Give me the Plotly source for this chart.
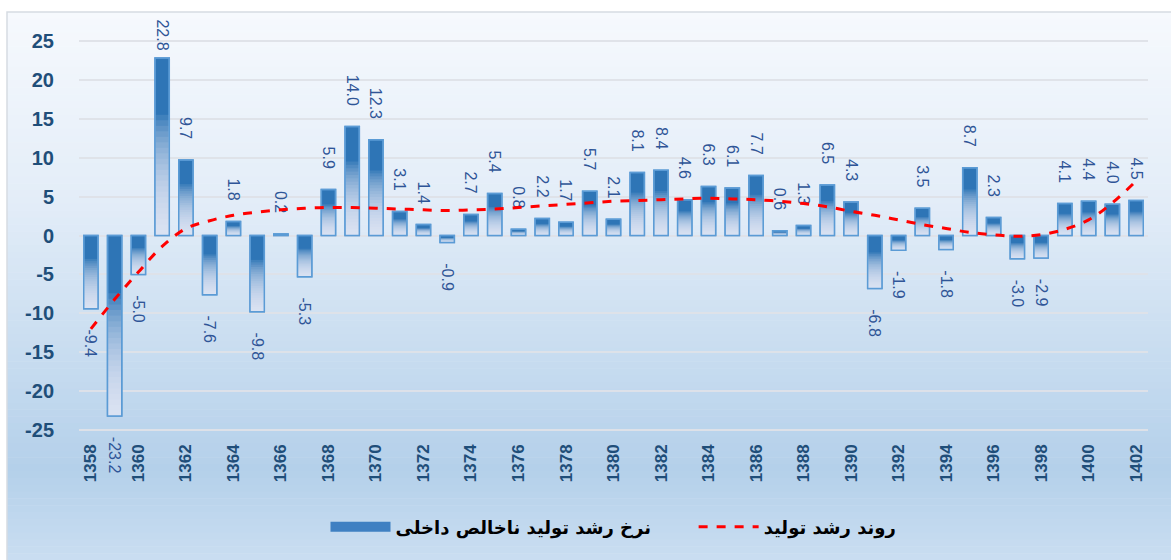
import plotly.graph_objects as go

years = list(range(1358, 1403))
gdp_growth = [-9.4, -23.2, -5.0, 22.8, 9.7, -7.6, 1.8, -9.8, 0.2, -5.3,
              5.9, 14.0, 12.3, 3.1, 1.4, -0.9, 2.7, 5.4, 0.8, 2.2,
              1.7, 5.7, 2.1, 8.1, 8.4, 4.6, 6.3, 6.1, 7.7, 0.6,
              1.3, 6.5, 4.3, -6.8, -1.9, 3.5, -1.8, 8.7, 2.3, -3.0,
              -2.9, 4.1, 4.4, 4.0, 4.5]
trend = [-12.0, -8.2, -4.7, -1.4, 0.9, 1.9, 2.6, 3.0, 3.3, 3.5,
         3.6, 3.6, 3.5, 3.4, 3.3, 3.2, 3.3, 3.4, 3.6, 3.8,
         4.0, 4.2, 4.4, 4.5, 4.6, 4.7, 4.8, 4.7, 4.6, 4.4,
         4.1, 3.7, 3.1, 2.6, 2.0, 1.4, 0.9, 0.4, 0.1, -0.1,
         0.1, 0.8, 2.0, 4.2, 7.0]
x_ticks = list(range(1358, 1403, 2))
y_ticks = list(range(-25, 30, 5))
bar_name = "نرخ رشد تولید ناخالص داخلی"
trend_name = "روند رشد تولید"

W, H = 1171, 560
ML, MR, MT, MB = 79, 23, 39, 128
pw, ph = W - ML - MR, H - MT - MB


def px_to_paper_x(px):
    return (px - ML) / pw


def px_to_paper_y(py):
    return (H - MB - py) / ph


fig = go.Figure()

# background gradient (chart area)
stops = [(12, (246, 249, 253)), (200, (227, 237, 248)), (330, (204, 223, 241)),
         (470, (180, 208, 234)), (560, (202, 222, 241))]


def col_at(py):
    for (y0, c0), (y1, c1) in zip(stops[:-1], stops[1:]):
        if y0 <= py <= y1:
            t = (py - y0) / (y1 - y0)
            return tuple(round(a + (b - a) * t) for a, b in zip(c0, c1))
    return stops[-1][1]


shapes = []
n = 80
top, bot = 12, 560
for i in range(n):
    y0 = top + (bot - top) * i / n
    y1 = top + (bot - top) * (i + 1) / n
    c = col_at((y0 + y1) / 2)
    shapes.append(dict(type="rect", xref="paper", yref="paper",
                       x0=px_to_paper_x(7), x1=px_to_paper_x(W + 2),
                       y0=px_to_paper_y(y1 + 0.5), y1=px_to_paper_y(y0),
                       fillcolor=f"rgb({c[0]},{c[1]},{c[2]})",
                       line=dict(width=0), layer="below"))
shapes.append(dict(type="rect", xref="paper", yref="paper",
                   x0=px_to_paper_x(7), x1=px_to_paper_x(W + 5),
                   y0=px_to_paper_y(H + 5), y1=px_to_paper_y(12),
                   fillcolor="rgba(0,0,0,0)",
                   line=dict(width=1.5, color="#d6dbe2"), layer="below"))

NB = "\u00a0"


def pad_label(v):
    s = f"{v:.1f}"
    if v >= 0:
        return s + NB * (1 if v > 20 else 4)
    return NB * 4 + s


labels = [pad_label(v) for v in gdp_growth]

# main bars
fig.add_trace(go.Bar(
    x=years, y=gdp_growth, name=bar_name, width=0.6,
    marker=dict(color="#2e75b6", line=dict(color="#5b9bd5", width=1.5)),
    text=labels, textposition="outside", textangle=90,
    textfont=dict(family="Liberation Sans", size=16, color="#2f5597"),
    cliponaxis=False, constraintext="none", showlegend=False,
))

# gradient overlays (white, increasing toward the bottom of each bar)
N = 22
bases = [min(v, 0) for v in gdp_growth]
for k in range(1, N + 1):
    frac = 0.68 * k / N
    fig.add_trace(go.Bar(
        x=years, y=[abs(v) * frac for v in gdp_growth], base=bases, width=0.6,
        marker=dict(color="rgba(246,247,255,0.095)", line=dict(width=0)),
        showlegend=False, hoverinfo="skip",
    ))

# border-only on top
fig.add_trace(go.Bar(
    x=years, y=gdp_growth, width=0.6,
    marker=dict(color="rgba(0,0,0,0)", line=dict(color="#5b9bd5", width=1.5)),
    showlegend=False, hoverinfo="skip",
))

# legend proxy for bars (wide swatch)
fig.add_trace(go.Scatter(
    x=[None], y=[None], name=bar_name + NB * 6, mode="lines",
    line=dict(color="#3f80c2", width=12), showlegend=True,
))

fig.add_trace(go.Scatter(
    x=years, y=trend, name=trend_name, mode="lines",
    line=dict(color="#ff0000", width=3, dash="dash", shape="spline"),
    cliponaxis=False,
))

fig.update_layout(
    width=W, height=H,
    margin=dict(l=ML, r=MR, t=MT, b=MB),
    paper_bgcolor="white", plot_bgcolor="rgba(0,0,0,0)",
    barmode="overlay", bargap=0.4,
    shapes=shapes,
    showlegend=True,
    legend=dict(orientation="h", x=0.5, xanchor="center",
                y=px_to_paper_y(527), yanchor="middle",
                font=dict(family="DejaVu Sans", size=18, color="#000000", weight="bold"),
                bgcolor="rgba(0,0,0,0)", itemwidth=60,
                traceorder="normal"),
    xaxis=dict(range=[1357.5, 1402.5], tickvals=x_ticks,
               ticktext=[str(t) for t in x_ticks], tickangle=-90,
               tickfont=dict(family="Liberation Sans", size=17, color="#1f4e79", weight="bold"),
               showgrid=False, zeroline=False, showline=False, ticks="",
               ticklabelstandoff=8),
    yaxis=dict(range=[-25.25, 25.25], tickvals=y_ticks,
               ticktext=[str(t) for t in y_ticks],
               tickfont=dict(family="Liberation Sans", size=20, color="#1f4e79", weight="bold"),
               showgrid=True, gridcolor="rgba(222,226,232,0.95)", gridwidth=2,
               zeroline=True, zerolinecolor="rgba(222,226,232,0.95)", zerolinewidth=2,
               showline=False, ticks="", ticklabelstandoff=24),
    font=dict(family="Liberation Sans"),
)

fig.write_html("out.html", config={"displayModeBar": False},
               post_script="document.body.style.margin='0';")
